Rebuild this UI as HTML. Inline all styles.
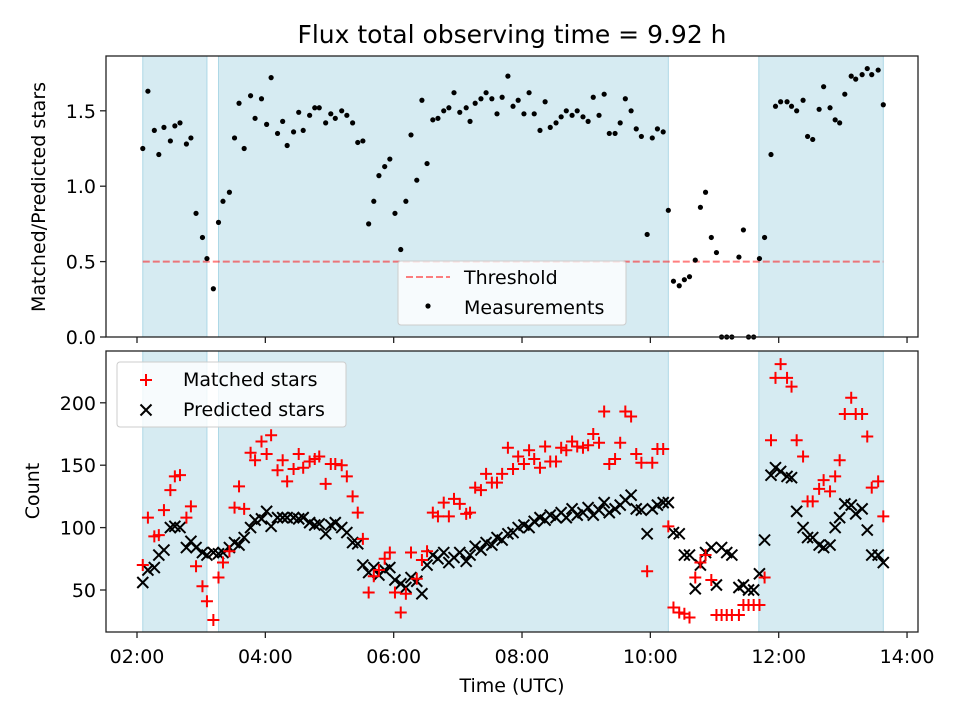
<!DOCTYPE html>
<html><head><meta charset="utf-8"><style>
body{margin:0;background:#fff}
svg text{font-family:"DejaVu Sans","Liberation Sans",sans-serif;fill:#000}
</style></head><body>
<svg id="chart" width="960" height="720" xmlns="http://www.w3.org/2000/svg" style="position:absolute;left:0;top:0"></svg>
<script>
const spans=[[2.09,3.09],[3.27,10.28],[11.69,13.63]];
const times=[2.09,2.17,2.27,2.34,2.42,2.52,2.59,2.67,2.77,2.84,2.92,3.02,3.09,3.19,3.27,3.34,3.44,3.52,3.59,3.67,3.77,3.84,3.94,4.02,4.09,4.19,4.27,4.34,4.44,4.52,4.59,4.69,4.77,4.84,4.94,5.02,5.09,5.19,5.27,5.36,5.44,5.52,
5.61,5.69,5.77,5.86,5.94,6.02,6.11,6.19,6.27,6.36,6.44,6.52,6.61,6.69,6.78,6.86,6.94,7.03,7.13,7.19,7.27,7.36,7.44,7.53,7.61,7.69,7.78,7.86,7.94,
8.03,8.11,8.19,8.28,8.36,8.44,8.53,8.61,8.69,8.78,8.86,8.95,9.03,9.11,9.20,9.28,9.36,9.45,9.53,9.61,9.70,9.78,9.86,9.95,10.03,10.11,10.20,10.28,
10.36,10.45,10.53,10.61,10.70,10.78,10.86,10.95,11.03,11.11,11.19,11.27,11.38,11.45,11.53,11.61,11.70,11.78,11.88,11.95,12.03,12.13,12.20,12.28,12.38,12.45,12.53,12.63,12.70,12.80,12.88,12.95,13.03,13.13,13.20,13.30,13.38,13.45,13.55,13.63];
const ratios=[1.25,1.63,1.37,1.21,1.39,1.30,1.40,1.42,1.28,1.32,0.82,0.66,0.52,0.32,0.76,0.90,0.96,1.32,1.55,1.25,1.60,1.45,1.58,1.41,1.72,1.35,1.43,1.27,1.36,1.49,1.37,1.47,1.52,1.52,1.42,1.48,1.45,1.50,1.47,1.42,1.29,1.30,
0.75,0.90,1.07,1.13,1.18,0.82,0.58,0.90,1.34,1.04,1.57,1.15,1.44,1.45,1.50,1.52,1.62,1.49,1.52,1.43,1.55,1.58,1.62,1.58,1.48,1.59,1.73,1.53,1.57,
1.48,1.62,1.48,1.37,1.56,1.39,1.42,1.46,1.50,1.47,1.50,1.46,1.43,1.59,1.47,1.61,1.35,1.35,1.42,1.58,1.50,1.38,1.33,0.68,1.32,1.38,1.36,0.84,
0.37,0.34,0.38,0.40,0.51,0.86,0.96,0.66,0.56,0,0,0,0.53,0.71,0,0,0.52,0.66,1.21,1.53,1.56,1.56,1.53,1.50,1.57,1.33,1.31,1.51,1.66,1.52,1.44,1.42,1.61,1.73,1.71,1.74,1.78,1.74,1.77,1.54];
const predicted=[56,66,68,78,82,100,101,100,84,89,84,80,78,80,79,80,84,88,86,92,100,106,107,113,101,108,108,108,108,107,108,104,102,103,95,102,104,100,96,88,87,70,
64,68,62,66,68,58,55,52,60,57,47,70,78,75,80,72,76,80,73,78,85,82,88,86,92,90,95,96,100,
102,100,105,108,106,110,108,112,108,115,110,112,116,110,114,120,112,115,118,122,126,115,114,95,115,118,120,120,
96,95,78,78,51,70,80,84,54,84,80,78,52,54,50,50,63,90,142,148,145,141,140,113,100,92,92,86,84,86,100,108,119,118,111,115,98,78,78,72];
const matched=[70,108,93,94,114,130,141,142,108,117,69,53,41,26,60,72,81,116,133,115,160,154,169,159,174,146,154,137,147,159,148,153,155,157,135,151,151,150,141,125,112,91,
48,61,66,75,80,48,32,47,80,59,74,81,112,109,120,109,123,119,111,112,132,130,143,136,136,143,164,147,157,
151,162,155,148,165,153,153,164,162,169,165,164,166,175,168,193,151,155,168,193,189,159,152,65,152,163,163,101,
36,32,31,28,60,72,78,58,30,30,30,30,30,38,38,38,38,60,170,220,231,220,213,170,157,121,121,131,138,129,141,154,191,204,191,191,173,132,137,109];
const xTicks=[2,4,6,8,10,12,14];
const xTickLabels=["02:00","04:00","06:00","08:00","10:00","12:00","14:00"];
const topTicks=[0,0.5,1.0,1.5];
const botTicks=[50,100,150,200];
const threshold=0.5;

const NS="http://www.w3.org/2000/svg";
const svg=document.getElementById('chart');
function el(t,a,p){const e=document.createElementNS(NS,t);for(const k in a)e.setAttribute(k,a[k]);(p||svg).appendChild(e);return e;}
const L=106,R=918,T1=56,B1=337,T2=351,B2=632;
const X=h=>137+(h-2)*64.17;
const Y1=v=>337-v*150.8;
const Y2=c=>652.4-c*1.248;

function panel(top,bot,name){
  const g=el('g',{});
  
  
  spans.forEach((s,i)=>{
    const r=el('rect',{x:X(s[0]),y:top,width:X(s[1])-X(s[0]),height:bot-top,fill:'#add8e6','fill-opacity':0.5,stroke:'#add8e6','stroke-width':1},g);
    
    
  });
  return g;
}
const gTop=panel(T1,B1,'top-panel');
const gBot=panel(T2,B2,'bottom-panel');

const th=el('line',{x1:X(2.09),x2:X(13.63),y1:Y1(threshold),y2:Y1(threshold),stroke:'#ff0000','stroke-opacity':0.5,'stroke-width':2,'stroke-dasharray':'7,3'},gTop);



times.forEach((t,i)=>{
  const c=el('circle',{cx:X(t),cy:Y1(ratios[i]),r:2.6,fill:'#000'},gTop);
  
  
});
times.forEach((t,i)=>{
  const x=X(t),y=Y2(predicted[i]),s=5.5;
  const p=el('path',{d:`M${x-s},${y-s}L${x+s},${y+s}M${x-s},${y+s}L${x+s},${y-s}`,stroke:'#000','stroke-width':2},gBot);
  
  
});
times.forEach((t,i)=>{
  const x=X(t),y=Y2(matched[i]),s=6;
  const p=el('path',{d:`M${x-s},${y}L${x+s},${y}M${x},${y-s}L${x},${y+s}`,stroke:'#ff0000','stroke-width':2},gBot);
  
  
});

[[T1,B1],[T2,B2]].forEach((f,i)=>{
  const r=el('rect',{x:L,y:f[0],width:R-L,height:f[1]-f[0],fill:'none',stroke:'#222','stroke-width':1.3});
  
  
});
xTicks.forEach((h,i)=>{
  el('line',{x1:X(h),x2:X(h),y1:B1,y2:B1+6,stroke:'#222','stroke-width':1.3});
  el('line',{x1:X(h),x2:X(h),y1:B2,y2:B2+6,stroke:'#222','stroke-width':1.3});
  const t=el('text',{x:X(h),y:B2+31,'text-anchor':'middle','font-size':19});
  t.textContent=xTickLabels[i];
  
  
});
topTicks.forEach(v=>{
  el('line',{x1:L-6,x2:L,y1:Y1(v),y2:Y1(v),stroke:'#222','stroke-width':1.3});
  const t=el('text',{x:L-10,y:Y1(v)+7,'text-anchor':'end','font-size':19});
  t.textContent=v.toFixed(1);
  
  
});
botTicks.forEach(v=>{
  el('line',{x1:L-6,x2:L,y1:Y2(v),y2:Y2(v),stroke:'#222','stroke-width':1.3});
  const t=el('text',{x:L-10,y:Y2(v)+7,'text-anchor':'end','font-size':19});
  t.textContent=v;
  
  
});
</script>
<svg style="position:absolute;left:0;top:0" width="960" height="720" xmlns="http://www.w3.org/2000/svg">
<text x="512" y="43" text-anchor="middle" font-size="25">Flux total observing time = 9.92 h</text>
<text transform="translate(45,197) rotate(-90)" text-anchor="middle" font-size="19">Matched/Predicted stars</text>
<text transform="translate(39,491) rotate(-90)" text-anchor="middle" font-size="19">Count</text>
<text x="512" y="692" text-anchor="middle" font-size="19">Time (UTC)</text>
<g>
<rect x="398" y="261" width="228" height="64" rx="3" fill="#fff" fill-opacity="0.8" stroke="#ccc"/>
<line x1="406" x2="450" y1="277" y2="277" stroke="#ff0000" stroke-opacity="0.5" stroke-width="2" stroke-dasharray="7,3"/>
<text x="464" y="284" font-size="19">Threshold</text>
<circle cx="428" cy="306" r="2.6" fill="#000"/>
<text x="464" y="314" font-size="19">Measurements</text>
</g>
<g>
<rect x="117" y="362" width="229" height="65" rx="3" fill="#fff" fill-opacity="0.8" stroke="#ccc"/>
<path d="M140,380h12M146,374v12" stroke="#ff0000" stroke-width="2"/>
<text x="183" y="386" font-size="19">Matched stars</text>
<path d="M140.5,404.5l11,11M140.5,415.5l11,-11" stroke="#000" stroke-width="2"/>
<text x="183" y="416" font-size="19">Predicted stars</text>
</g>
</svg>
</body></html>
